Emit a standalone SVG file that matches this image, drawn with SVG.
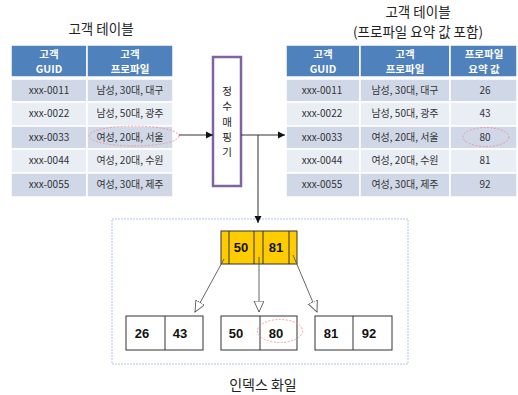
<svg xmlns="http://www.w3.org/2000/svg" width="518" height="395" viewBox="0 0 518 395">
<style>
text{font-family:"Noto Sans CJK KR","Liberation Sans",sans-serif;}
.title{font-size:13.5px;fill:#222;text-anchor:middle;}
.hd{fill:#4f81bd;stroke:#fff;stroke-width:1.5;}
.r1{fill:#d0d8e8;stroke:#fff;stroke-width:1.5;}
.r2{fill:#e9edf4;stroke:#fff;stroke-width:1.5;}
.ht{font-size:10.5px;fill:#fff;font-weight:bold;text-anchor:middle;}
.bt{font-size:10px;fill:#333;text-anchor:middle;}
.mt{font-size:10.5px;fill:#222;text-anchor:middle;}
.node{fill:#fff;stroke:#333;stroke-width:1;}
.nt{font-family:"Liberation Sans",Arial,sans-serif;font-size:13px;font-weight:bold;fill:#111;text-anchor:middle;}
.hl{fill:none;stroke:#f08a8a;stroke-width:0.8;stroke-dasharray:2,1.5;}
.conn{fill:none;stroke:#333;stroke-width:1;}
.tconn{fill:none;stroke:#555;stroke-width:0.9;}
</style>
<defs>
<marker id="arr" markerWidth="8" markerHeight="8" refX="7" refY="4" orient="auto" markerUnits="userSpaceOnUse"><path d="M0,0.5 L7,4 L0,7.5 Z" fill="#111"/></marker>
<marker id="hollow" markerWidth="12" markerHeight="12" refX="11" refY="5" orient="auto" markerUnits="userSpaceOnUse"><path d="M0,0 L11,5 L0,10 Z" fill="#fff" stroke="#555" stroke-width="0.9"/></marker>
</defs>

<g id="left-table">
<text class="title" x="101" y="34" font-size="14">고객 테이블</text>
<rect class="hd" x="11" y="45" width="76" height="32"/>
<rect class="hd" x="87" y="45" width="86" height="32"/>
<text class="ht" x="49" y="58">고객<tspan x="49" dy="15.3">GUID</tspan></text>
<text class="ht" x="130" y="58">고객<tspan x="130" dy="15.3">프로파일</tspan></text>
<rect class="r1" x="11" y="79" width="76" height="23"/><rect class="r1" x="87" y="79" width="86" height="23"/>
<rect class="r2" x="11" y="102" width="76" height="24"/><rect class="r2" x="87" y="102" width="86" height="24"/>
<rect class="r1" x="11" y="126" width="76" height="23"/><rect class="r1" x="87" y="126" width="86" height="23"/>
<rect class="r2" x="11" y="149" width="76" height="24"/><rect class="r2" x="87" y="149" width="86" height="24"/>
<rect class="r1" x="11" y="173" width="76" height="24"/><rect class="r1" x="87" y="173" width="86" height="24"/>
<text class="bt" x="49" y="94">xxx-0011</text><text class="bt" x="130" y="94">남성, 30대, 대구</text>
<text class="bt" x="49" y="117">xxx-0022</text><text class="bt" x="130" y="117">남성, 50대, 광주</text>
<text class="bt" x="49" y="141">xxx-0033</text><text class="bt" x="130" y="141">여성, 20대, 서울</text>
<text class="bt" x="49" y="164">xxx-0044</text><text class="bt" x="130" y="164">여성, 20대, 수원</text>
<text class="bt" x="49" y="188">xxx-0055</text><text class="bt" x="130" y="188">여성, 30대, 제주</text>
<ellipse class="hl" cx="134" cy="136" rx="45" ry="10"/>
</g>

<g id="mapper">
<rect x="213" y="57" width="28" height="129" fill="#fff" stroke="#8064a2" stroke-width="2.5"/>
<text class="mt" x="227" y="95">정<tspan x="227" dy="15.3">수</tspan><tspan x="227" dy="15.3">매</tspan><tspan x="227" dy="15.3">핑</tspan><tspan x="227" dy="15.3">기</tspan></text>
</g>

<g id="right-table">
<text class="title" x="418" y="17">고객 테이블<tspan x="418" dy="19.6">(프로파일 요약 값 포함)</tspan></text>
<rect class="hd" x="286" y="45" width="74" height="32"/>
<rect class="hd" x="360" y="45" width="90" height="32"/>
<rect class="hd" x="450" y="45" width="67" height="32"/>
<text class="ht" x="323" y="58">고객<tspan x="323" dy="15.3">GUID</tspan></text>
<text class="ht" x="405" y="58">고객<tspan x="405" dy="15.3">프로파일</tspan></text>
<text class="ht" x="484" y="58">프로파일<tspan x="484" dy="15.3">요약 값</tspan></text>
<g>
<rect class="r1" x="286" y="79" width="74" height="23"/><rect class="r1" x="360" y="79" width="90" height="23"/><rect class="r1" x="450" y="79" width="67" height="23"/>
<rect class="r2" x="286" y="102" width="74" height="24"/><rect class="r2" x="360" y="102" width="90" height="24"/><rect class="r2" x="450" y="102" width="67" height="24"/>
<rect class="r1" x="286" y="126" width="74" height="23"/><rect class="r1" x="360" y="126" width="90" height="23"/><rect class="r1" x="450" y="126" width="67" height="23"/>
<rect class="r2" x="286" y="149" width="74" height="24"/><rect class="r2" x="360" y="149" width="90" height="24"/><rect class="r2" x="450" y="149" width="67" height="24"/>
<rect class="r1" x="286" y="173" width="74" height="24"/><rect class="r1" x="360" y="173" width="90" height="24"/><rect class="r1" x="450" y="173" width="67" height="24"/>
</g>
<text class="bt" x="322" y="94">xxx-0011</text><text class="bt" x="405" y="94">남성, 30대, 대구</text><text class="bt" x="485" y="94">26</text>
<text class="bt" x="322" y="117">xxx-0022</text><text class="bt" x="405" y="117">남성, 50대, 광주</text><text class="bt" x="485" y="117">43</text>
<text class="bt" x="322" y="141">xxx-0033</text><text class="bt" x="405" y="141">여성, 20대, 서울</text><text class="bt" x="485" y="141">80</text>
<text class="bt" x="322" y="164">xxx-0044</text><text class="bt" x="405" y="164">여성, 20대, 수원</text><text class="bt" x="485" y="164">81</text>
<text class="bt" x="322" y="188">xxx-0055</text><text class="bt" x="405" y="188">여성, 30대, 제주</text><text class="bt" x="485" y="188">92</text>
<ellipse class="hl" cx="486" cy="137" rx="23" ry="9.5"/>
</g>

<g id="index-file">
<rect x="112" y="219" width="296" height="145" fill="none" stroke="#9fb4f4" stroke-width="0.8" stroke-dasharray="2,1"/>
<text x="263" y="390" font-size="14" fill="#222" text-anchor="middle">인덱스 화일</text>
</g>

<g id="root-node">
<rect x="221" y="231" width="76" height="33" fill="#ffcc00" stroke="#333" stroke-width="1"/>
<line x1="229" y1="231" x2="229" y2="264" stroke="#333"/>
<line x1="254" y1="231" x2="254" y2="264" stroke="#333"/>
<line x1="263" y1="231" x2="263" y2="264" stroke="#333"/>
<line x1="289" y1="231" x2="289" y2="264" stroke="#333"/>
<text class="nt" x="241" y="252">50</text>
<text class="nt" x="276" y="252">81</text>
</g>

<g id="leaf-1">
<rect class="node" x="126" y="316" width="77" height="34"/>
<line x1="165" y1="316" x2="165" y2="350" stroke="#333"/>
<text class="nt" x="142" y="338">26</text><text class="nt" x="180" y="338">43</text>
</g>
<g id="leaf-2">
<rect class="node" x="221" y="316" width="76" height="34"/>
<line x1="260" y1="316" x2="260" y2="350" stroke="#333"/>
<text class="nt" x="236" y="338">50</text><text class="nt" x="276" y="338">80</text>
<ellipse class="hl" cx="280" cy="331" rx="22.5" ry="11.5"/>
</g>
<g id="leaf-3">
<rect class="node" x="315" y="316" width="77" height="34"/>
<line x1="353" y1="316" x2="353" y2="350" stroke="#333"/>
<text class="nt" x="331" y="338">81</text><text class="nt" x="369" y="338">92</text>
</g>

<g id="connectors">
<line class="conn" x1="179" y1="135" x2="213" y2="135" marker-end="url(#arr)"/>
<line class="conn" x1="241" y1="135" x2="285" y2="135" marker-end="url(#arr)"/>
<polyline class="conn" points="258,135 258,223" marker-end="url(#arr)"/>
<line class="tconn" x1="224" y1="259" x2="195" y2="312" marker-end="url(#hollow)"/>
<line class="tconn" x1="259" y1="257" x2="259" y2="312" marker-end="url(#hollow)"/>
<line class="tconn" x1="293" y1="255" x2="317" y2="312" marker-end="url(#hollow)"/>
</g>
</svg>
